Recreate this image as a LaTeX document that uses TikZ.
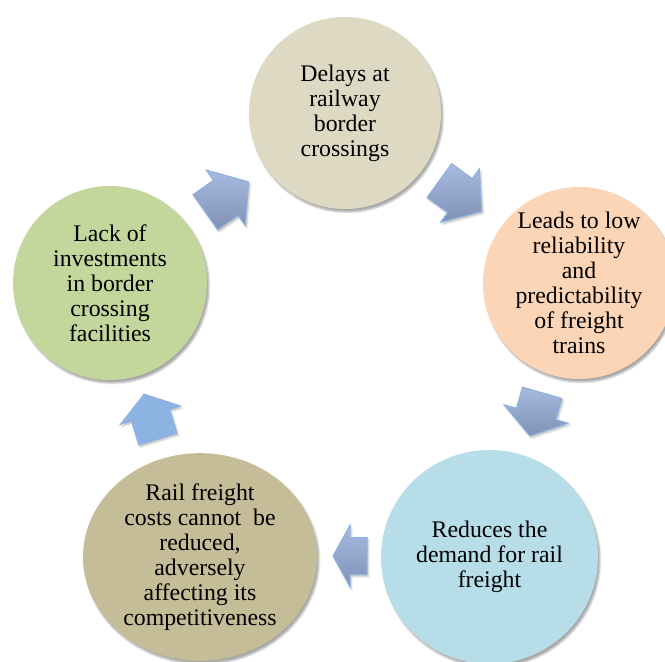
\documentclass[tikz,border=0pt]{standalone}
\usepackage{fontspec}
\setmainfont{Liberation Serif}
\usetikzlibrary{shapes.geometric,shadows.blur}
\definecolor{cTop}{HTML}{DDD9C3}
\definecolor{cRight}{HTML}{FBD5B5}
\definecolor{cBR}{HTML}{B7DDE8}
\definecolor{cBL}{HTML}{C4BD97}
\definecolor{cLeft}{HTML}{C3D69B}
\definecolor{arrTop}{HTML}{A8BAE0}
\definecolor{arrBot}{HTML}{7F92B5}
\definecolor{arrLine}{HTML}{8DB3E2}
\newcommand{\cycarrow}[7]{% #1 centre, #2 angle, #3 length, #4 head length, #5 head half width, #6 shaft half width, #7 style
  \path[#7, shift={(#1)}, rotate=#2]
    ({-#3/2},{-#6}) -- ({#3/2-#4},{-#6}) -- ({#3/2-#4},{-#5}) -- ({#3/2},0)
    -- ({#3/2-#4},{#5}) -- ({#3/2-#4},{#6}) -- ({-#3/2},{#6}) -- cycle;}
\begin{document}
\begin{tikzpicture}[x=1pt,y=-1pt,
  bubble/.style={draw=none, align=center, inner sep=0pt,
    font=\fontsize{23.8}{25}\selectfont,
    blur shadow={shadow xshift=2pt, shadow yshift=-3pt, shadow blur steps=6, shadow opacity=35}},
  roundbub/.style={bubble, circle},
  ovalbub/.style={bubble, ellipse},
  cycarr/.style={draw=arrLine, line width=1pt, line join=miter, top color=arrTop, bottom color=arrBot,
    blur shadow={shadow xshift=1.5pt, shadow yshift=-2pt, shadow blur steps=4, shadow opacity=25}},
  cycarrflat/.style={draw=arrLine, line width=1pt, fill=arrLine,
    blur shadow={shadow xshift=1.5pt, shadow yshift=-2pt, shadow blur steps=4, shadow opacity=25}}]
\useasboundingbox (0,0) rectangle (665,662);
\begin{scope}
\clip (0,0) rectangle (665,662);
\node[roundbub, fill=cTop, minimum size=192pt] (delays) at (345,113)
  {Delays at\\railway\\border\\crossings};
\node[roundbub, fill=cRight, minimum size=192pt] (leads) at (579,283)
  {Leads to low\\reliability\\and\\predictability\\of freight\\trains};
\node[ovalbub, fill=cBR, minimum width=217pt, minimum height=214pt] (reduces) at (489.5,557)
  {Reduces the\\demand for rail\\freight};
\node[ovalbub, fill=cBL, minimum width=234pt, minimum height=207pt] (costs) at (200,557)
  {Rail freight\\costs cannot~ be\\reduced,\\adversely\\affecting its\\competitiveness};
\node[roundbub, fill=cLeft, minimum size=194pt] (lack) at (110,283)
  {Lack of\\investments\\in border\\crossing\\facilities};
\end{scope}
\coordinate (a1) at (227,197);
\coordinate (a2) at (460.5,196);
\coordinate (a3) at (536,414.4);
\coordinate (a4) at (350,556);
\coordinate (a5) at (151,416.6);
\cycarrow{a1}{35}{53}{28}{34}{21.5}{cycarr}
\cycarrow{a2}{-36}{52.5}{27}{33}{21}{cycarr}
\cycarrow{a3}{-106}{45}{23}{33.5}{20.5}{cycarr}
\cycarrow{a4}{180}{34}{17}{31}{18.5}{cycarr}
\cycarrow{a5}{107}{47}{22}{31.5}{20}{cycarrflat}
\end{tikzpicture}
\end{document}
